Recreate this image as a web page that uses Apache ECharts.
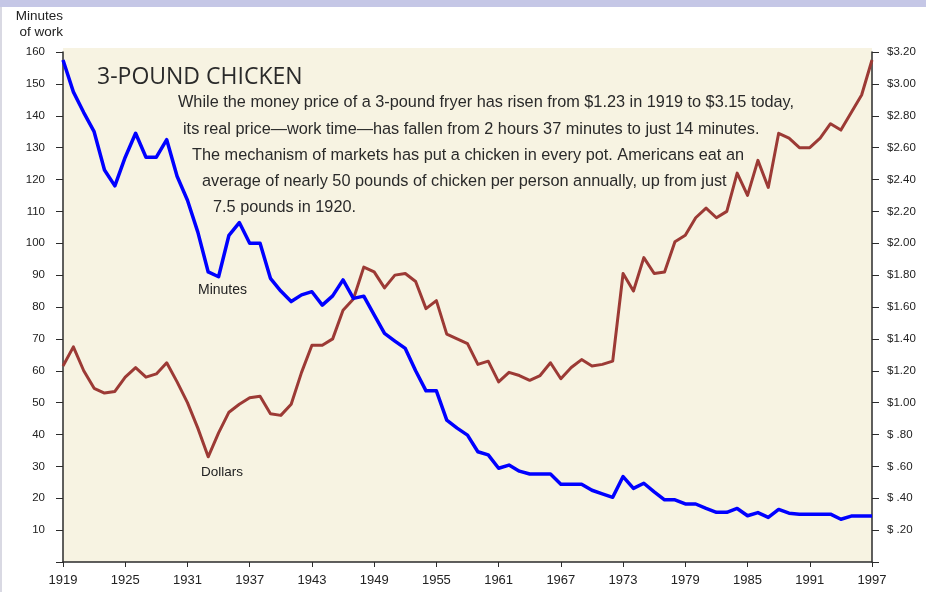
<!DOCTYPE html>
<html>
<head>
<meta charset="utf-8">
<title>3-Pound Chicken</title>
<script src="https://cdn.jsdelivr.net/npm/echarts@6/dist/echarts.min.js"></script>
<style>
    html, body {margin: 0; padding: 0; background: #fff;}
    #main {width: 926px; height: 592px;}
</style>
</head>
<body>
<div id="main"></div>
<script>
// years on the bottom axis, one per category
var years = [];
for (var y = 1919; y <= 1997; y++) {
    years.push(String(y));
}

// minutes of work for a 3-pound chicken (left axis)
var minutes = [
    157.5, 147.5, 141, 135, 123, 118, 127, 134.5, 127, 127,      // 1919-1928
    132.5, 121, 113.5, 103.5, 91, 89.5, 102.5, 106.5, 100, 100,   // 1929-1938
    89, 85, 81.7, 83.8, 84.8, 80.6, 83.5, 88.5, 82.7, 83.4,       // 1939-1948
    77.5, 71.7, 69.3, 67, 60, 53.7, 53.7, 44.5, 42, 39.8,         // 1949-1958
    34.6, 33.6, 29.4, 30.4, 28.5, 27.6, 27.6, 27.6, 24.4, 24.4,   // 1959-1968
    24.4, 22.5, 21.4, 20.3, 26.8, 23.1, 24.7, 22, 19.5, 19.5,     // 1969-1978
    18.2, 18.2, 16.8, 15.6, 15.6, 16.8, 14.5, 15.5, 14, 16.5,     // 1979-1988
    15.3, 15, 15, 15, 15, 13.4, 14.4, 14.4, 14.4                  // 1989-1997
];

// money price in dollars (right axis)
var dollars = [
    1.23, 1.35, 1.20, 1.09, 1.06, 1.07, 1.16, 1.22, 1.16, 1.18,   // 1919-1928
    1.25, 1.13, 1.00, 0.84, 0.66, 0.81, 0.94, 0.99, 1.03, 1.04,   // 1929-1938
    0.93, 0.92, 0.99, 1.19, 1.36, 1.36, 1.40, 1.58, 1.65, 1.85,   // 1939-1948
    1.82, 1.72, 1.80, 1.81, 1.76, 1.59, 1.64, 1.43, 1.40, 1.37,   // 1949-1958
    1.24, 1.26, 1.13, 1.19, 1.17, 1.14, 1.17, 1.25, 1.15, 1.22,   // 1959-1968
    1.27, 1.23, 1.24, 1.26, 1.81, 1.70, 1.91, 1.81, 1.82, 2.01,   // 1969-1978
    2.05, 2.16, 2.22, 2.16, 2.20, 2.44, 2.30, 2.52, 2.35, 2.69,   // 1979-1988
    2.66, 2.60, 2.60, 2.66, 2.75, 2.71, 2.82, 2.93, 3.15          // 1989-1997
];

// text blocks
var titleText = '3-POUND CHICKEN';
var noteLines = [
    'While the money price of a 3-pound fryer has risen from $1.23 in 1919 to $3.15 today,',
    'its real price\u2014work time\u2014has fallen from 2 hours 37 minutes to just 14 minutes.',
    'The mechanism of markets has put a chicken in every pot. Americans eat an',
    'average of nearly 50 pounds of chicken per person annually, up from just',
    '7.5 pounds in 1920.'
];
var noteX = [178, 183, 192, 202, 213];
var noteY = [103, 130, 156, 182, 208];

var axisColor = '#2b2b2b';
var labelFont = '"Liberation Sans", Arial, sans-serif';

// $ .80 style labels under a dollar
function dollarLabel(v) {
    if (v < 0.01) {
        return '';
    }
    if (v < 0.999) {
        return '$ .' + v.toFixed(2).split('.')[1];
    }
    return '$' + v.toFixed(2);
}

var graphics = [
    // page frame bits
    {type: 'rect', shape: {x: 0, y: 0, width: 926, height: 7}, style: {fill: '#c5c7e6'}, silent: true},
    {type: 'rect', shape: {x: 0, y: 7, width: 2, height: 585}, style: {fill: '#d9d9e3'}, silent: true},
    // beige plot background
    {type: 'rect', shape: {x: 63, y: 48, width: 809, height: 514}, style: {fill: '#f7f3e2'}, z: -10, silent: true},
    // axis caption
    {type: 'text', x: 63, y: 16, style: {text: 'Minutes', font: '13.5px ' + labelFont, fill: '#222', align: 'right', verticalAlign: 'middle'}},
    {type: 'text', x: 63, y: 32, style: {text: 'of work', font: '13.5px ' + labelFont, fill: '#222', align: 'right', verticalAlign: 'middle'}},
    // title
    {type: 'text', x: 97, y: 77, style: {text: titleText, font: '500 23px "Open Sans", sans-serif', fill: '#2a2a2a', align: 'left', verticalAlign: 'middle'}},
    // series names
    {type: 'text', x: 198, y: 290, style: {text: 'Minutes', font: '14px ' + labelFont, fill: '#222', align: 'left', verticalAlign: 'middle'}},
    {type: 'text', x: 201, y: 472, style: {text: 'Dollars', font: '13.5px ' + labelFont, fill: '#222', align: 'left', verticalAlign: 'middle'}}
];
for (var i = 0; i < noteLines.length; i++) {
    graphics.push({
        type: 'text', x: noteX[i], y: noteY[i],
        style: {text: noteLines[i], font: '16.3px ' + labelFont, fill: '#2a2a2a', align: 'left', verticalAlign: 'middle'}
    });
}

var option = {
    animation: false,
    backgroundColor: '#ffffff',
    grid: {left: 63, right: 54, top: 52, bottom: 30, containLabel: false},
    xAxis: {
        type: 'category',
        data: years,
        boundaryGap: false,
        axisLine: {show: true, lineStyle: {color: axisColor, width: 1.5}},
        axisTick: {show: true, interval: 5, length: 5, lineStyle: {color: axisColor, width: 1}},
        axisLabel: {interval: 5, margin: 12, color: '#222', fontSize: 13, fontFamily: labelFont},
        splitLine: {show: false}
    },
    yAxis: [
        {
            type: 'value',
            position: 'left',
            min: 0,
            max: 160,
            interval: 10,
            axisLine: {show: true, lineStyle: {color: axisColor, width: 1.5}},
            axisTick: {show: true, length: 7, lineStyle: {color: axisColor, width: 1}},
            axisLabel: {
                margin: 18, color: '#222', fontSize: 11.5, fontFamily: labelFont,
                formatter: function (v) { return v === 0 ? '' : String(v); }
            },
            splitLine: {show: false}
        },
        {
            type: 'value',
            position: 'right',
            min: 0,
            max: 3.2,
            interval: 0.2,
            axisLine: {show: true, lineStyle: {color: axisColor, width: 1.5}},
            axisTick: {show: true, length: 7, lineStyle: {color: axisColor, width: 1}},
            axisLabel: {margin: 15, color: '#222', fontSize: 11.5, fontFamily: labelFont, formatter: dollarLabel},
            splitLine: {show: false}
        }
    ],
    series: [
        {
            name: 'Minutes',
            type: 'line',
            yAxisIndex: 0,
            data: minutes,
            symbol: 'none',
            lineStyle: {color: '#0000ff', width: 3.5, join: 'round'},
            z: 3
        },
        {
            name: 'Dollars',
            type: 'line',
            yAxisIndex: 1,
            data: dollars,
            symbol: 'none',
            lineStyle: {color: '#9c3a35', width: 3, join: 'round'},
            z: 2
        }
    ],
    graphic: graphics
};

var myChart = echarts.init(document.getElementById('main'));
myChart.setOption(option);
</script>
</body>
</html>
